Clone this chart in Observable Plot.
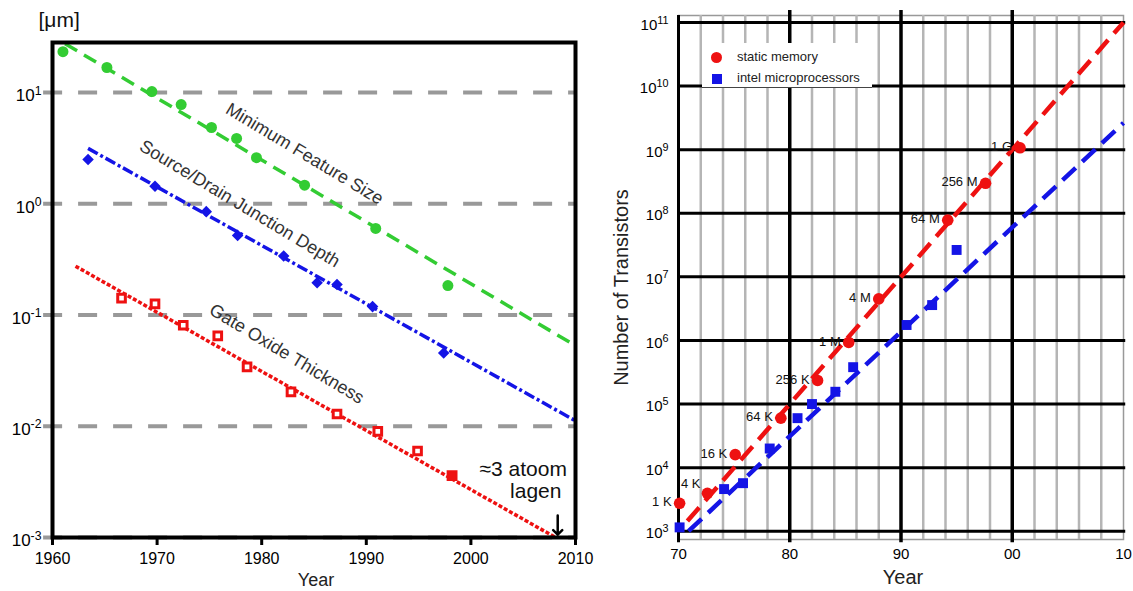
<!DOCTYPE html>
<html><head><meta charset="utf-8">
<script src="https://cdn.jsdelivr.net/npm/d3@7"></script>
<script src="https://cdn.jsdelivr.net/npm/@observablehq/plot@0.6"></script>
<style>
html,body{margin:0;padding:0;background:#fff;}
#wrap{position:relative;width:1133px;height:591px;overflow:hidden;font-family:"Liberation Sans",Arial,Helvetica,sans-serif;}
#left,#right{position:absolute;top:0;}
#left{left:0;}
#right{left:580px;}
#legend{position:absolute;left:702px;top:43px;width:170px;height:44px;background:#fff;border-bottom:1px solid #444;font-size:13px;color:#222;}
#legend .sw{position:absolute;}
#legend .lb{position:absolute;left:35px;line-height:16px;white-space:nowrap;}
</style></head><body>
<div id="wrap">
  <div id="left"></div>
  <div id="right"></div>
  <div id="legend">
    <span class="sw" style="left:9px;top:9px;width:11px;height:11px;border-radius:50%;background:#ee1111;"></span>
    <span class="lb" style="top:6px;">static memory</span>
    <span class="sw" style="left:10px;top:31px;width:10px;height:10px;background:#1414e6;"></span>
    <span class="lb" style="top:27px;">intel microprocessors</span>
  </div>
</div>
<script>
// ---------- LEFT PANEL DATA ----------
const leftXTicks = [1960, 1970, 1980, 1990, 2000, 2010];
const leftDecades = [1e-3, 1e-2, 1e-1, 1, 10];

const featureYears  = [1961.0, 1965.2, 1969.5, 1972.3, 1975.2, 1977.6, 1979.5, 1984.1, 1990.9, 1997.8];
const featureValues = [23.3, 16.8, 10.2, 7.8, 4.85, 3.87, 2.6, 1.47, 0.6, 0.184];
const featureTrendYears  = [1961.2, 2010];
const featureTrendValues = [27.5, 0.053];

const junctionYears  = [1963.4, 1969.8, 1974.7, 1977.7, 1982.1, 1985.3, 1987.2, 1990.6, 1997.4];
const junctionValues = [2.5, 1.44, 0.85, 0.52, 0.34, 0.195, 0.188, 0.119, 0.0456];
const junctionTrendYears  = [1963.4, 2010];
const junctionTrendValues = [3.15, 0.0112];

const oxideYears  = [1966.6, 1969.8, 1972.5, 1975.8, 1978.6, 1982.8, 1987.2, 1991.1, 1994.9, 1998.2];
const oxideValues = [0.142, 0.126, 0.081, 0.065, 0.0342, 0.0204, 0.0129, 0.009, 0.006, 0.0036];
const oxideTrendYears  = [1962.2, 2008.1];
const oxideTrendValues = [0.275, 0.001];

const seriesLabels = ["Minimum Feature Size", "Source/Drain Junction Depth", "Gate Oxide Thickness"];
const seriesLabelYears = [1984.1, 1977.9, 1982.4];
const seriesLabelValues = [2.81, 1.0, 0.0447];

// ---------- RIGHT PANEL DATA ----------
const majorYears = [1970, 1980, 1990, 2000, 2010];
const rightXTickLabels = ["70", "80", "90", "00", "10"];
const minorYears = [1972, 1974, 1976, 1978, 1982, 1984, 1986, 1988, 1992, 1994, 1996, 1998, 2002, 2004, 2006, 2008];
const rightDecades = [1e3, 1e4, 1e5, 1e6, 1e7, 1e8, 1e9, 1e10, 1e11];

const memYears  = [1970.1, 1972.6, 1975.1, 1979.2, 1982.5, 1985.3, 1988.0, 1994.2, 1997.6, 2000.7];
const memValues = [2750, 3950, 16000, 60000, 235000, 930000, 4.5e6, 7.8e7, 2.96e8, 1.07e9];
const memLabels = ["1 K", "4 K", "16 K", "64 K", "256 K", "1 M", "4 M", "64 M", "256 M", "1 G"];
const memTrendYears  = [1970.8, 2010];
const memTrendValues = [1445, 1e11];

const intelYears  = [1970.1, 1974.1, 1975.8, 1978.2, 1980.7, 1982.0, 1984.1, 1985.7, 1990.5, 1992.8, 1995.0];
const intelValues = [1150, 4600, 5700, 20000, 60000, 100000, 156000, 380000, 1.75e6, 3.6e6, 2.65e7];
const intelTrendYears  = [1970.9, 2010];
const intelTrendValues = [1000, 2.63e9];

// ---------- BUILD ----------
const FONT = "Liberation Sans, Arial, Helvetica, sans-serif";
const GREEN = "#33cc33", BLUE = "#1414e6", RED = "#ee1111";
const zip = (xs, ys, extra) => xs.map((x, i) => ({x, y: ys[i], ...(extra ? {label: extra[i]} : {})}));

const feature = zip(featureYears, featureValues);
const featureTrend = zip(featureTrendYears, featureTrendValues);
const junction = zip(junctionYears, junctionValues);
const junctionTrend = zip(junctionTrendYears, junctionTrendValues);
const oxide = zip(oxideYears, oxideValues);
const oxideTrend = zip(oxideTrendYears, oxideTrendValues);
const seriesText = zip(seriesLabelYears, seriesLabelValues, seriesLabels);

const memory = zip(memYears, memValues, memLabels);
const memTrend = zip(memTrendYears, memTrendValues);
const intel = zip(intelYears, intelValues);
const intelTrend = zip(intelTrendYears, intelTrendValues);

const expFormat = d => String(Math.round(Math.log10(d)));

const leftPlot = Plot.plot({
  width: 600, height: 591,
  marginLeft: 52, marginRight: 25, marginTop: 42, marginBottom: 54,
  style: {fontFamily: FONT, background: "transparent", overflow: "visible", color: "black"},
  x: {domain: [1960, 2010]},
  y: {type: "log", domain: [1e-3, 10 ** 1.45]},
  marks: [
    Plot.ruleY(leftDecades, {x1: 1959.15, x2: 2010, stroke: "#999", strokeWidth: 4, strokeDasharray: "19,16"}),
    Plot.line(featureTrend, {x: "x", y: "y", stroke: GREEN, strokeWidth: 3.5, strokeDasharray: "14,8", strokeLinecap: "butt"}),
    Plot.line(junctionTrend, {x: "x", y: "y", stroke: BLUE, strokeWidth: 3.5, strokeDasharray: "11,3,3,3", strokeLinecap: "butt"}),
    Plot.line(oxideTrend, {x: "x", y: "y", stroke: RED, strokeWidth: 3.5, strokeDasharray: "4,2", strokeLinecap: "butt"}),
    Plot.dot(feature, {x: "x", y: "y", r: 5.5, fill: GREEN}),
    Plot.dot(junction, {x: "x", y: "y", r: 5.2, symbol: "diamond2", fill: BLUE}),
    Plot.dot(oxide.slice(0, -1), {x: "x", y: "y", r: 4.3, symbol: "square", fill: "white", stroke: RED, strokeWidth: 3}),
    Plot.dot(oxide.slice(-1), {x: "x", y: "y", r: 5, symbol: "square", fill: RED, stroke: RED, strokeWidth: 2}),
    Plot.text(seriesText, {x: "x", y: "y", text: "label", rotate: 31, fontSize: 18, fill: "#333"}),
    Plot.text(["≈3 atoom"], {x: 2005.0, y: 0.00413, fontSize: 21, fill: "#111"}),
    Plot.text(["lagen"], {x: 2006.2, y: 0.00258, fontSize: 21, fill: "#111"}),
    Plot.arrow([0], {x1: 2008.3, x2: 2008.3, y1: 0.00158, y2: 0.00106, stroke: "black", strokeWidth: 2.5, headLength: 10, headAngle: 90}),
    Plot.frame({stroke: "black", strokeWidth: 4}),
    Plot.axisX({ticks: leftXTicks, tickFormat: d => String(d), tickSize: 8, tickPadding: 7, strokeWidth: 3, fontSize: 16, label: null}),
    Plot.axisY({ticks: leftDecades, tickFormat: expFormat, tickSize: 0, tickPadding: 11, fontSize: 17, label: null}),
    Plot.text(["[μm]"], {frameAnchor: "top-left", textAnchor: "start", lineAnchor: "middle", dx: -14, dy: -22, fontSize: 21, fill: "#111"}),
    Plot.text(["Year"], {frameAnchor: "bottom", textAnchor: "middle", lineAnchor: "middle", dx: 2, dy: 43, fontSize: 18, fill: "#222"})
  ]
});

const rightPlot = Plot.plot({
  width: 553, height: 591,
  marginLeft: 98, marginRight: 10, marginTop: 15, marginBottom: 52,
  style: {fontFamily: FONT, background: "transparent", overflow: "visible", color: "black"},
  x: {domain: [1970, 2010]},
  y: {type: "log", domain: [10 ** 2.87, 10 ** 11.11]},
  marks: [
    Plot.frame({stroke: "#999", strokeWidth: 1.5}),
    Plot.ruleX(minorYears, {stroke: "#b5b5b5", strokeWidth: 2.5}),
    Plot.ruleY(rightDecades, {x1: 1970, x2: 2010.2, stroke: "black", strokeWidth: 3}),
    Plot.ruleX(majorYears.slice(0, 1), {y1: 10 ** 11.11, y2: 10 ** 2.82, stroke: "black", strokeWidth: 3}),
    Plot.ruleX(majorYears.slice(1, 4), {y1: 10 ** 11.19, y2: 10 ** 2.82, stroke: "black", strokeWidth: 3.5}),
    Plot.line(memTrend, {x: "x", y: "y", stroke: RED, strokeWidth: 4.5, strokeDasharray: "18,9", strokeLinecap: "butt"}),
    Plot.line(intelTrend, {x: "x", y: "y", stroke: BLUE, strokeWidth: 4.5, strokeDasharray: "18,9", strokeLinecap: "butt"}),
    Plot.dot(memory, {x: "x", y: "y", r: 5.8, fill: RED}),
    Plot.dot(intel, {x: "x", y: "y", r: 5.6, symbol: "square", fill: BLUE}),
    Plot.text(memory.filter((d, i) => i !== 1), {x: "x", y: "y", text: "label", textAnchor: "end", dx: -8, dy: -1, fontSize: 13, fill: "#111"}),
    Plot.text(memory.filter((d, i) => i === 1), {x: "x", y: "y", text: "label", textAnchor: "end", dx: -7, dy: -9, fontSize: 13, fill: "#111"}),
    Plot.axisX({ticks: majorYears, tickFormat: d => rightXTickLabels[majorYears.indexOf(d)], tickSize: 0, tickPadding: 9, fontSize: 15, label: null}),
    Plot.axisY({ticks: rightDecades, tickFormat: expFormat, tickSize: 0, tickPadding: 10, fontSize: 15, label: null}),
    Plot.text(["Year"], {frameAnchor: "bottom", textAnchor: "middle", lineAnchor: "middle", dx: 2, dy: 38, fontSize: 20, fill: "#222"}),
    Plot.text(["Number of Transistors"], {frameAnchor: "left", textAnchor: "middle", lineAnchor: "middle", rotate: -90, dx: -57, dy: 10, fontSize: 20, fill: "#222"})
  ]
});

function supTicks(svg, extra) {
  d3.select(svg).selectAll('g[aria-label="y-axis tick label"] text').each(function () {
    const e = this.textContent;
    const t = d3.select(this);
    t.text(null);
    t.append("tspan").attr("dy", extra + "em").text("10");
    t.append("tspan").attr("dy", "-0.55em").attr("font-size", "0.72em").text(e);
  });
}
supTicks(leftPlot, 0.2);
supTicks(rightPlot, 0.15);

document.getElementById("left").appendChild(leftPlot);
document.getElementById("right").appendChild(rightPlot);
</script>
</body></html>
